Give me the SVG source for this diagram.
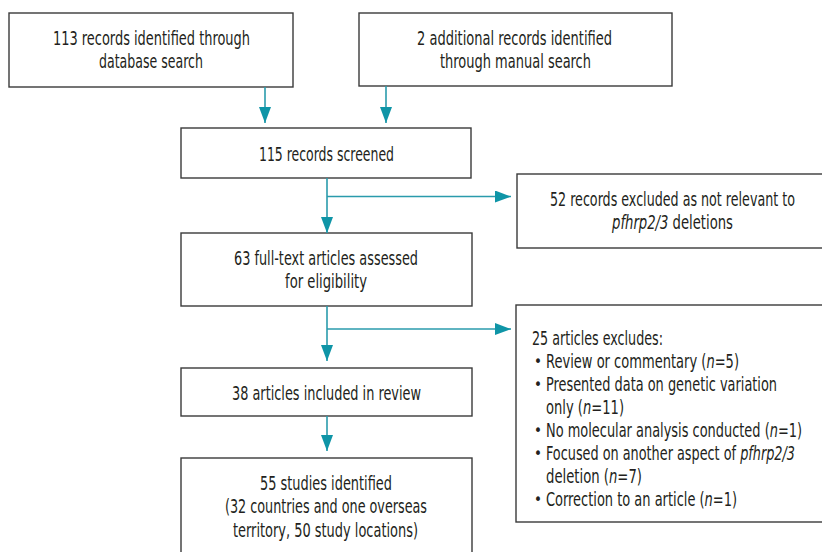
<svg xmlns="http://www.w3.org/2000/svg" width="822" height="552" viewBox="0 0 822 552">
<defs>
<style>
.box{fill:#fff;stroke:#3a3a3a;stroke-width:1.4}
text{font-family:"DejaVu Sans Condensed","Liberation Sans",sans-serif;font-size:20px;fill:#231f20}
.c{text-anchor:middle}
.i{font-style:italic}
.b{font-size:15px}
.con{stroke:#2a9bac;stroke-width:1.6;fill:none}
</style>
<marker id="ah" viewBox="0 0 16 12" refX="16" refY="6" markerWidth="16" markerHeight="12" markerUnits="userSpaceOnUse" orient="auto">
<path d="M0,0 L16,6 L0,12 Z" fill="#0f95a7"/>
</marker>
</defs>
<rect width="822" height="552" fill="#fff"/>
<g id="n1"><rect class="box" x="9" y="13" width="284" height="74"/>
<text class="c" x="151.5" y="45" textLength="197" lengthAdjust="spacingAndGlyphs">113 records identified through</text>
<text class="c" x="151" y="68" textLength="104" lengthAdjust="spacingAndGlyphs">database search</text></g>
<g id="n2"><rect class="box" x="359" y="13" width="313" height="73"/>
<text class="c" x="514.5" y="45" textLength="195" lengthAdjust="spacingAndGlyphs">2 additional records identified</text>
<text class="c" x="515.5" y="68" textLength="151" lengthAdjust="spacingAndGlyphs">through manual search</text></g>
<g id="n3"><rect class="box" x="181" y="128" width="290" height="50"/>
<text class="c" x="326.5" y="161" textLength="135" lengthAdjust="spacingAndGlyphs">115 records screened</text></g>
<g id="n4"><rect class="box" x="517" y="174" width="310" height="74"/>
<text class="c" x="672.5" y="206" textLength="245" lengthAdjust="spacingAndGlyphs">52 records excluded as not relevant to</text>
<text class="c" x="672.5" y="229" textLength="121" lengthAdjust="spacingAndGlyphs"><tspan class="i">pfhrp2/3</tspan> deletions</text></g>
<g id="n5"><rect class="box" x="181" y="233" width="291" height="73"/>
<text class="c" x="326" y="265" textLength="184" lengthAdjust="spacingAndGlyphs">63 full-text articles assessed</text>
<text class="c" x="326" y="288" textLength="82" lengthAdjust="spacingAndGlyphs">for eligibility</text></g>
<g id="n6"><rect class="box" x="181" y="368" width="291" height="48"/>
<text class="c" x="326.5" y="400" textLength="189" lengthAdjust="spacingAndGlyphs">38 articles included in review</text></g>
<g id="n7"><rect class="box" x="181" y="458" width="291" height="100"/>
<text class="c" x="326" y="490" textLength="132" lengthAdjust="spacingAndGlyphs">55 studies identified</text>
<text class="c" x="326" y="513" textLength="202" lengthAdjust="spacingAndGlyphs">(32 countries and one overseas</text>
<text class="c" x="325.5" y="537" textLength="185" lengthAdjust="spacingAndGlyphs">territory, 50 study locations)</text></g>
<g id="n8"><rect class="box" x="516" y="305" width="311" height="217"/>
<text x="532" y="345" textLength="131" lengthAdjust="spacingAndGlyphs">25 articles excludes:</text>
<text class="b" x="534" y="367">•</text><text x="546" y="368" textLength="193" lengthAdjust="spacingAndGlyphs">Review or commentary (<tspan class="i">n</tspan>=5)</text>
<text class="b" x="534" y="390">•</text><text x="546" y="391" textLength="231" lengthAdjust="spacingAndGlyphs">Presented data on genetic variation</text>
<text x="546" y="414" textLength="78" lengthAdjust="spacingAndGlyphs">only (<tspan class="i">n</tspan>=11)</text>
<text class="b" x="534" y="436">•</text><text x="546" y="437" textLength="256" lengthAdjust="spacingAndGlyphs">No molecular analysis conducted (<tspan class="i">n</tspan>=1)</text>
<text class="b" x="534" y="459">•</text><text x="546" y="460" textLength="249" lengthAdjust="spacingAndGlyphs">Focused on another aspect of <tspan class="i">pfhrp2/3</tspan></text>
<text x="546" y="483" textLength="96" lengthAdjust="spacingAndGlyphs">deletion (<tspan class="i">n</tspan>=7)</text>
<text class="b" x="534" y="505">•</text><text x="546" y="506" textLength="191" lengthAdjust="spacingAndGlyphs">Correction to an article (<tspan class="i">n</tspan>=1)</text></g>
<g id="connectors">
<path class="con" d="M265,87 V123" marker-end="url(#ah)"/>
<path class="con" d="M386,86 V123" marker-end="url(#ah)"/>
<path class="con" d="M327,178 V233" marker-end="url(#ah)"/>
<path class="con" d="M327,196.5 H511" marker-end="url(#ah)"/>
<path class="con" d="M327,306 V361" marker-end="url(#ah)"/>
<path class="con" d="M327,329 H511" marker-end="url(#ah)"/>
<path class="con" d="M327,416 V451" marker-end="url(#ah)"/>
</g>
</svg>
